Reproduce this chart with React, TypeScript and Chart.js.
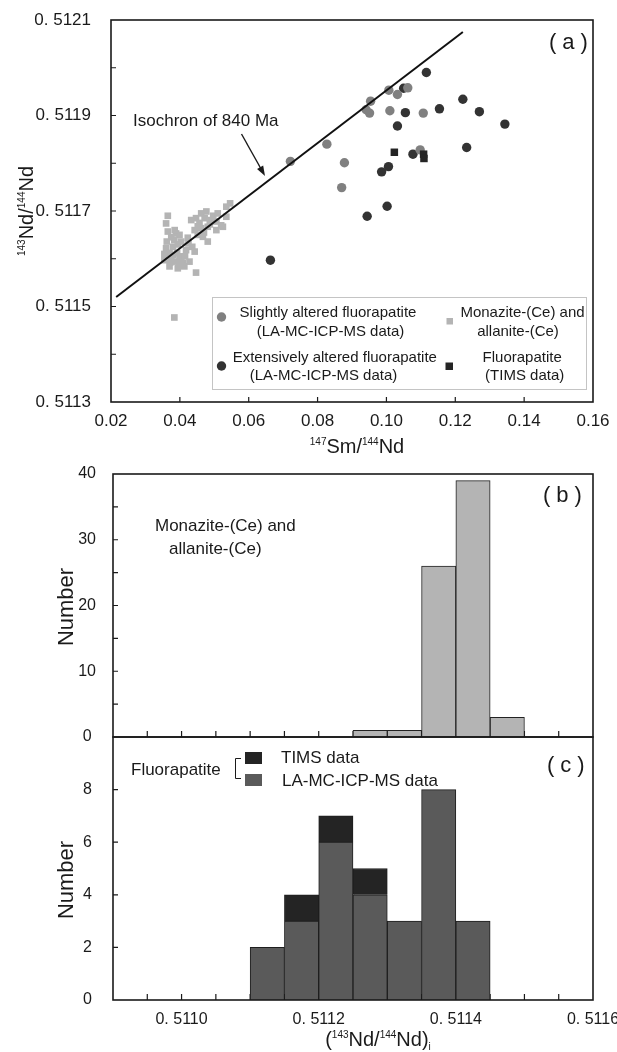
import React, { useEffect, useRef } from 'react';
import { Chart, registerables } from 'chart.js';

Chart.register(...registerables);

const FONT = '"Liberation Sans", Arial, Helvetica, sans-serif';
const INK = '#1a1a1a';

// ---------- Panel (a): 147Sm/144Nd vs 143Nd/144Nd ----------
const monaziteSm = [0.0365, 0.036, 0.0365, 0.0362, 0.0389, 0.0399, 0.0384, 0.0404, 0.036, 0.038, 0.0394, 0.0418, 0.0436, 0.0443, 0.0355, 0.0375, 0.0389, 0.0409, 0.0428, 0.037, 0.0394, 0.0413, 0.0447, 0.0384, 0.0433, 0.0447, 0.0462, 0.0477, 0.0472, 0.0491, 0.0506, 0.0443, 0.0462, 0.0481, 0.0506, 0.0525, 0.0535, 0.0535, 0.0546, 0.0452, 0.0467, 0.0481, 0.0423, 0.0425, 0.037, 0.038, 0.0399, 0.0375, 0.0392, 0.0404, 0.0415, 0.0457, 0.0487, 0.0497, 0.052, 0.047, 0.0452, 0.051, 0.0385, 0.0372, 0.0398, 0.0355];
const monaziteNd = [0.51169, 0.511674, 0.511657, 0.511636, 0.511653, 0.51165, 0.511639, 0.511636, 0.511622, 0.511625, 0.51163, 0.511618, 0.511625, 0.511615, 0.511597, 0.511601, 0.511594, 0.511591, 0.511594, 0.511584, 0.51158, 0.511584, 0.511571, 0.511477, 0.511681, 0.511685, 0.511695, 0.511699, 0.511685, 0.511681, 0.511678, 0.51166, 0.511664, 0.511667, 0.51166, 0.511667, 0.511688, 0.511709, 0.511716, 0.51165, 0.511646, 0.511636, 0.511644, 0.511632, 0.511612, 0.511608, 0.511605, 0.511645, 0.511612, 0.5116, 0.511605, 0.511675, 0.511672, 0.51169, 0.51167, 0.511655, 0.511668, 0.511695, 0.51166, 0.511592, 0.51159, 0.51161];

const slightSm = [0.0721, 0.0827, 0.0878, 0.087, 0.0941, 0.0954, 0.0951, 0.1007, 0.101, 0.1032, 0.1062, 0.1107, 0.1098];
const slightNd = [0.511804, 0.51184, 0.511801, 0.511749, 0.511912, 0.51193, 0.511905, 0.511953, 0.51191, 0.511944, 0.511958, 0.511905, 0.511828];

const extensiveSm = [0.1116, 0.105, 0.1055, 0.1032, 0.1154, 0.1222, 0.127, 0.1344, 0.1233, 0.1077, 0.1006, 0.0986, 0.1002, 0.0944, 0.0663];
const extensiveNd = [0.51199, 0.511957, 0.511906, 0.511878, 0.511914, 0.511934, 0.511908, 0.511882, 0.511833, 0.511819, 0.511793, 0.511782, 0.51171, 0.511689, 0.511597];

const timsSm = [0.1023, 0.1108, 0.1109];
const timsNd = [0.511823, 0.511819, 0.51181];

const isochronSm = [0.0215, 0.1222];
const isochronNd = [0.51152, 0.512075];

const aXTicks = [0.02, 0.04, 0.06, 0.08, 0.1, 0.12, 0.14, 0.16];
const aYTicks = [0.5113, 0.5114, 0.5115, 0.5116, 0.5117, 0.5118, 0.5119, 0.512, 0.5121];
const aYLabelled = [0.5113, 0.5115, 0.5117, 0.5119, 0.5121];

const legendA = [
  { lines: ['Slightly altered fluorapatite', '(LA-MC-ICP-MS data)'] },
  { lines: ['Monazite-(Ce) and', 'allanite-(Ce)'] },
  { lines: ['Extensively altered fluorapatite', '(LA-MC-ICP-MS data)'] },
  { lines: ['Fluorapatite', '(TIMS data)'] },
];

// ---------- Panels (b), (c): histograms of (143Nd/144Nd)i ----------
const binWidth = 0.00005;
const binStartsB = [0.51125, 0.5113, 0.51135, 0.5114, 0.51145];
const monaziteCounts = [1, 1, 26, 39, 3];

const binStartsC = [0.5111, 0.51115, 0.5112, 0.51125, 0.5113, 0.51135, 0.5114];
const laCounts = [2, 3, 6, 4, 3, 8, 3];
const timsCounts = [0, 1, 1, 1, 0, 0, 0];

const histXTicks = [0.51095, 0.511, 0.51105, 0.5111, 0.51115, 0.5112, 0.51125, 0.5113, 0.51135, 0.5114, 0.51145, 0.5115, 0.51155];
const histXLabelled = [0.511, 0.5112, 0.5114, 0.5116];
const bYTicks = [0, 5, 10, 15, 20, 25, 30, 35, 40];
const bYLabelled = [0, 10, 20, 30, 40];
const cYTicks = [0, 2, 4, 6, 8];
const cYLabelled = [0, 2, 4, 6, 8];

const isIn = (v: number, arr: number[]) => arr.some((a) => Math.abs(a - v) < 1e-9);
const zip = (xs: number[], ys: number[]) => xs.map((x, i) => ({ x, y: ys[i] }));
const nd4 = (v: number) => '0. ' + Number(v).toFixed(4).slice(2);

type Seg = { t: string; k?: 'sup' | 'sub' };

function richWidth(ctx: CanvasRenderingContext2D, segs: Seg[], size: number) {
  let w = 0;
  for (const s of segs) {
    ctx.font = `${s.k ? Math.round(size * 0.5) : size}px ${FONT}`;
    w += ctx.measureText(s.t).width;
  }
  return w;
}

function drawRich(ctx: CanvasRenderingContext2D, segs: Seg[], x: number, y: number, size: number, rotate = false) {
  ctx.save();
  ctx.translate(x, y);
  if (rotate) ctx.rotate(-Math.PI / 2);
  ctx.fillStyle = INK;
  ctx.textBaseline = 'alphabetic';
  ctx.textAlign = 'left';
  const w = richWidth(ctx, segs, size);
  let cx = -w / 2;
  for (const s of segs) {
    ctx.font = `${s.k ? Math.round(size * 0.5) : size}px ${FONT}`;
    const dy = s.k === 'sup' ? -size * 0.42 : s.k === 'sub' ? size * 0.18 : 0;
    ctx.fillText(s.t, cx, dy);
    cx += ctx.measureText(s.t).width;
  }
  ctx.restore();
}

function text(ctx: CanvasRenderingContext2D, t: string, x: number, y: number, size: number, align: CanvasTextAlign = 'left', spacing = 0) {
  ctx.save();
  ctx.font = `${size}px ${FONT}`;
  ctx.fillStyle = INK;
  ctx.textAlign = align;
  ctx.textBaseline = 'alphabetic';
  if (spacing) (ctx as any).letterSpacing = `${spacing}px`;
  ctx.fillText(t, x, y);
  ctx.restore();
}

function rotatedText(ctx: CanvasRenderingContext2D, t: string, x: number, y: number, size: number) {
  ctx.save();
  ctx.translate(x, y);
  ctx.rotate(-Math.PI / 2);
  ctx.font = `${size}px ${FONT}`;
  ctx.fillStyle = INK;
  ctx.textAlign = 'center';
  ctx.textBaseline = 'alphabetic';
  ctx.fillText(t, 0, 0);
  ctx.restore();
}

function frameAndTicks(xTicks: number[], yTicks: number[], xLen: number, yLen: number) {
  return {
    id: 'frameAndTicks',
    beforeDatasetsDraw(chart: any) {
      const { ctx, chartArea: a, scales } = chart;
      ctx.save();
      ctx.strokeStyle = INK;
      ctx.lineWidth = 1.2;
      ctx.beginPath();
      for (const v of xTicks) {
        const px = scales.x.getPixelForValue(v);
        ctx.moveTo(px, a.bottom);
        ctx.lineTo(px, a.bottom - xLen);
      }
      for (const v of yTicks) {
        const py = scales.y.getPixelForValue(v);
        ctx.moveTo(a.left, py);
        ctx.lineTo(a.left + yLen, py);
      }
      ctx.stroke();
      ctx.restore();
    },
    afterDatasetsDraw(chart: any) {
      const { ctx, chartArea: a } = chart;
      ctx.save();
      ctx.strokeStyle = INK;
      ctx.lineWidth = 1.6;
      ctx.strokeRect(a.left, a.top, a.right - a.left, a.bottom - a.top);
      ctx.restore();
    },
  };
}

const noPad = (s: any) => {
  s.paddingLeft = 0;
  s.paddingRight = 0;
  s.paddingTop = 0;
  s.paddingBottom = 0;
};

function baseScales(o: {
  xMin: number; xMax: number; yMin: number; yMax: number;
  xLabels: number[]; yLabels: number[]; xFmt: (v: number) => string; yFmt: (v: number) => string;
  xHeight: number; yWidth: number; xPad: number; yPad: number; xFont: number; yFont: number;
  xShow: boolean; yAlign?: 'near' | 'center';
}) {
  return {
    x: {
      type: 'linear', offset: false, min: o.xMin, max: o.xMax,
      grid: { display: false }, border: { display: false },
      afterBuildTicks: (s: any) => { s.ticks = o.xLabels.map((v) => ({ value: v })); },
      afterFit: (s: any) => { s.height = o.xHeight; noPad(s); },
      ticks: {
        display: o.xShow, autoSkip: false, maxRotation: 0, minRotation: 0, padding: o.xPad, color: INK,
        font: { family: FONT, size: o.xFont }, callback: (v: any) => o.xFmt(Number(v)),
      },
    },
    y: {
      type: 'linear', min: o.yMin, max: o.yMax,
      grid: { display: false }, border: { display: false },
      afterBuildTicks: (s: any) => { s.ticks = o.yLabels.map((v) => ({ value: v })); },
      afterFit: (s: any) => { s.width = o.yWidth; noPad(s); },
      ticks: {
        autoSkip: false, padding: o.yPad, color: INK, crossAlign: o.yAlign || 'near',
        font: { family: FONT, size: o.yFont }, callback: (v: any) => o.yFmt(Number(v)),
      },
    },
  };
}

const COL = { monazite: '#b4b4b4', slight: '#808080', extensive: '#333333', tims: '#242424', la: '#5a5a5a' };

export default function App() {
  const refA = useRef<HTMLCanvasElement>(null);
  const refB = useRef<HTMLCanvasElement>(null);
  const refC = useRef<HTMLCanvasElement>(null);

  useEffect(() => {
    const charts: Chart[] = [];

    // ---------------- Panel (a) ----------------
    const decoA = {
      id: 'decoA',
      afterDraw(chart: any) {
        const ctx: CanvasRenderingContext2D = chart.ctx;
        drawRich(ctx, [{ t: '143', k: 'sup' }, { t: 'Nd' }, { t: '/' }, { t: '144', k: 'sup' }, { t: 'Nd' }], 33, 211, 20, true);
        drawRich(ctx, [{ t: '147', k: 'sup' }, { t: 'Sm' }, { t: '/' }, { t: '144', k: 'sup' }, { t: 'Nd' }], 357, 453, 20);
        text(ctx, 'Isochron of 840 Ma', 133, 126, 17);
        // arrow
        ctx.save();
        ctx.strokeStyle = INK; ctx.fillStyle = INK; ctx.lineWidth = 1.4;
        const x0 = 241.5, y0 = 134, x1 = 265, y1 = 176;
        const ang = Math.atan2(y1 - y0, x1 - x0);
        ctx.beginPath(); ctx.moveTo(x0, y0); ctx.lineTo(x1 - 6 * Math.cos(ang), y1 - 6 * Math.sin(ang)); ctx.stroke();
        ctx.beginPath();
        ctx.moveTo(x1, y1);
        ctx.lineTo(x1 - 10 * Math.cos(ang) + 3.5 * Math.sin(ang), y1 - 10 * Math.sin(ang) - 3.5 * Math.cos(ang));
        ctx.lineTo(x1 - 10 * Math.cos(ang) - 3.5 * Math.sin(ang), y1 - 10 * Math.sin(ang) + 3.5 * Math.cos(ang));
        ctx.closePath(); ctx.fill();
        ctx.restore();
        text(ctx, '(a)', 549, 49, 22, 'left', 6);
        // legend
        ctx.save();
        ctx.fillStyle = '#ffffff';
        ctx.fillRect(212, 297, 375, 93);
        ctx.strokeStyle = '#c4c4c4'; ctx.lineWidth = 1;
        ctx.strokeRect(212.5, 297.5, 374, 92);
        ctx.fillStyle = COL.slight; ctx.beginPath(); ctx.arc(221.5, 317, 4.7, 0, Math.PI * 2); ctx.fill();
        ctx.fillStyle = COL.extensive; ctx.beginPath(); ctx.arc(221.5, 366, 4.7, 0, Math.PI * 2); ctx.fill();
        ctx.fillStyle = COL.monazite; ctx.fillRect(446.5, 318, 6.5, 6.5);
        ctx.fillStyle = COL.tims; ctx.fillRect(445.5, 362.5, 7.5, 7.5);
        ctx.restore();
        const centers = [[328, 330.5], [522.5, 518], [334.8, 323.5], [522.2, 524.7]];
        const bases = [[317, 336], [317, 336], [362, 380], [362, 380]];
        legendA.forEach((e, i) => {
          e.lines.forEach((ln, j) => text(ctx, ln, centers[i][j], bases[i][j], 15, 'center'));
        });
      },
    };

    charts.push(new Chart(refA.current!, {
      type: 'scatter',
      data: {
        datasets: [
          { type: 'line', label: 'Isochron of 840 Ma', data: zip(isochronSm, isochronNd), borderColor: '#111', borderWidth: 2, pointRadius: 0, showLine: true, fill: false } as any,
          { label: 'Fluorapatite (TIMS data)', data: zip(timsSm, timsNd), pointStyle: 'rect', pointRadius: 5.3, backgroundColor: COL.tims, borderWidth: 0 },
          { label: 'Slightly altered fluorapatite (LA-MC-ICP-MS data)', data: zip(slightSm, slightNd), pointStyle: 'circle', pointRadius: 4.7, backgroundColor: COL.slight, borderWidth: 0 },
          { label: 'Extensively altered fluorapatite (LA-MC-ICP-MS data)', data: zip(extensiveSm, extensiveNd), pointStyle: 'circle', pointRadius: 4.7, backgroundColor: COL.extensive, borderWidth: 0 },
          { label: 'Monazite-(Ce) and allanite-(Ce)', data: zip(monaziteSm, monaziteNd), pointStyle: 'rect', pointRadius: 4.7, backgroundColor: COL.monazite, borderWidth: 0 },
        ],
      },
      options: {
        animation: false, responsive: false, devicePixelRatio: 1,
        layout: { padding: { left: 0, top: 20, right: 24, bottom: 582 } },
        plugins: { legend: { display: false }, tooltip: { enabled: false } },
        scales: baseScales({
          xMin: 0.02, xMax: 0.16, yMin: 0.5113, yMax: 0.5121,
          xLabels: aXTicks, yLabels: aYTicks,
          xFmt: (v) => v.toFixed(2), yFmt: (v) => (isIn(v, aYLabelled) ? nd4(v) : ''),
          xHeight: 68, yWidth: 111, xPad: 1, yPad: 12, xFont: 17, yFont: 17, xShow: true,
        }) as any,
      },
      plugins: [frameAndTicks(aXTicks.slice(1, -1), aYTicks.slice(1, -1), 5, 5), decoA],
    }));

    // ---------------- Panel (b) ----------------
    const decoB = {
      id: 'decoB',
      afterDraw(chart: any) {
        const ctx: CanvasRenderingContext2D = chart.ctx;
        rotatedText(ctx, 'Number', 73, 607, 22);
        text(ctx, 'Monazite-(Ce) and', 155, 531, 17);
        text(ctx, 'allanite-(Ce)', 169, 554, 17);
        text(ctx, '(b)', 543, 502, 22, 'left', 6);
      },
    };
    charts.push(new Chart(refB.current!, {
      type: 'bar',
      data: {
        datasets: [{
          label: 'Monazite-(Ce) and allanite-(Ce)',
          data: binStartsB.map((s, i) => ({ x: s + binWidth / 2, y: monaziteCounts[i] })),
          backgroundColor: COL.monazite, borderColor: '#222', borderWidth: 1,
          barPercentage: 1, categoryPercentage: 1,
        }],
      },
      options: {
        animation: false, responsive: false, devicePixelRatio: 1,
        layout: { padding: { left: 0, top: 474, right: 24, bottom: 315 } },
        plugins: { legend: { display: false }, tooltip: { enabled: false } },
        scales: baseScales({
          xMin: 0.5109, xMax: 0.5116, yMin: 0, yMax: 40,
          xLabels: histXLabelled, yLabels: bYTicks,
          xFmt: () => '', yFmt: (v) => (isIn(v, bYLabelled) ? String(v) : ''),
          xHeight: 0, yWidth: 113, xPad: 0, yPad: 9, xFont: 16, yFont: 16, xShow: false, yAlign: 'center',
        }) as any,
      },
      plugins: [frameAndTicks(histXTicks, bYTicks.slice(1, -1), 6, 5), decoB],
    }));

    // ---------------- Panel (c) ----------------
    const decoC = {
      id: 'decoC',
      afterDraw(chart: any) {
        const ctx: CanvasRenderingContext2D = chart.ctx;
        rotatedText(ctx, 'Number', 73, 880, 22);
        drawRich(ctx, [{ t: '(' }, { t: '143', k: 'sup' }, { t: 'Nd/' }, { t: '144', k: 'sup' }, { t: 'Nd)' }, { t: 'i', k: 'sub' }], 378, 1046, 20);
        text(ctx, 'Fluorapatite', 131, 775, 17);
        ctx.save();
        ctx.strokeStyle = INK; ctx.lineWidth = 1;
        ctx.beginPath();
        ctx.moveTo(241, 758.5); ctx.lineTo(235.5, 758.5); ctx.lineTo(235.5, 778.5); ctx.lineTo(241, 778.5);
        ctx.stroke();
        ctx.fillStyle = COL.tims; ctx.fillRect(245, 752, 17, 12);
        ctx.fillStyle = COL.la; ctx.fillRect(245, 774, 17, 12);
        ctx.restore();
        text(ctx, 'TIMS data', 281, 763, 17);
        text(ctx, 'LA-MC-ICP-MS data', 282, 786, 17);
        text(ctx, '(c)', 547, 772, 22, 'left', 6);
      },
    };
    charts.push(new Chart(refC.current!, {
      type: 'bar',
      data: {
        datasets: [
          {
            label: 'LA-MC-ICP-MS data', stack: 'c',
            data: binStartsC.map((s, i) => ({ x: s + binWidth / 2, y: laCounts[i] })),
            backgroundColor: COL.la, borderColor: '#1e1e1e', borderWidth: 1,
            barPercentage: 1, categoryPercentage: 1,
          },
          {
            label: 'TIMS data', stack: 'c',
            data: binStartsC.map((s, i) => ({ x: s + binWidth / 2, y: timsCounts[i] })),
            backgroundColor: COL.tims, borderColor: '#1e1e1e', borderWidth: 1,
            barPercentage: 1, categoryPercentage: 1,
          },
        ],
      },
      options: {
        animation: false, responsive: false, devicePixelRatio: 1,
        layout: { padding: { left: 0, top: 737, right: 24, bottom: 12 } },
        plugins: { legend: { display: false }, tooltip: { enabled: false } },
        scales: (() => {
          const s: any = baseScales({
            xMin: 0.5109, xMax: 0.5116, yMin: 0, yMax: 10,
            xLabels: histXLabelled, yLabels: cYTicks,
            xFmt: (v) => nd4(v), yFmt: (v) => (isIn(v, cYLabelled) ? String(v) : ''),
            xHeight: 40, yWidth: 113, xPad: 2, yPad: 13, xFont: 16, yFont: 16, xShow: true, yAlign: 'center',
          });
          s.y.stacked = true;
          return s;
        })(),
      },
      plugins: [frameAndTicks(histXTicks, cYTicks.slice(1), 6, 5), decoC],
    }));

    return () => charts.forEach((c) => c.destroy());
  }, []);

  const cv: React.CSSProperties = { position: 'absolute', left: 0, top: 0, width: 617, height: 1052 };
  return (
    <div style={{ position: 'absolute', left: 0, top: 0, width: 617, height: 1052, background: '#fff', overflow: 'hidden' }}>
      <canvas ref={refA} width={617} height={1052} style={cv} />
      <canvas ref={refB} width={617} height={1052} style={cv} />
      <canvas ref={refC} width={617} height={1052} style={cv} />
    </div>
  );
}
